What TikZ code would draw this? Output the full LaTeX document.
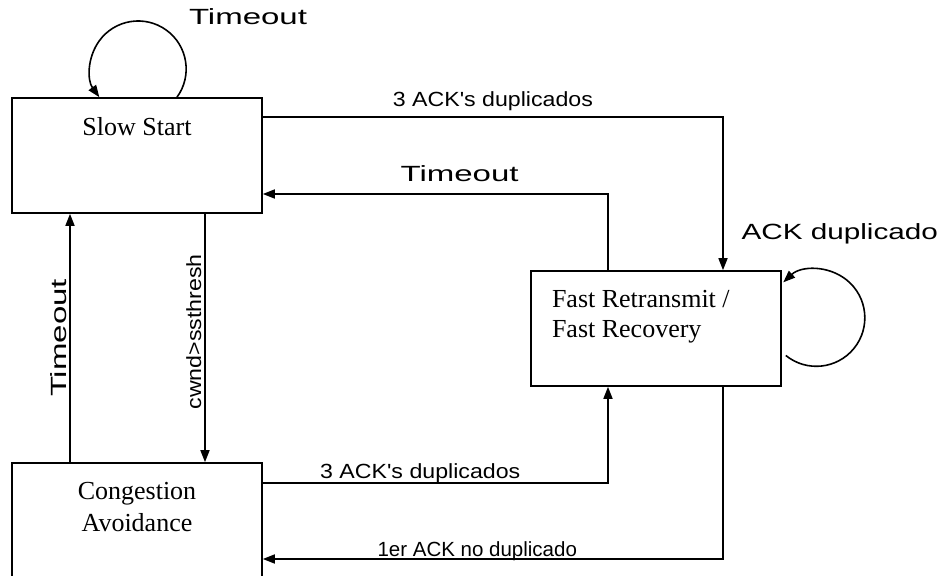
\documentclass[tikz,border=0pt]{standalone}
\usepackage{fontspec}
\usepackage{graphicx}
\setmainfont{Liberation Serif}
\newfontfamily\arialfont{Liberation Sans}
\usetikzlibrary{positioning,arrows.meta}
\newcommand{\lblwide}[2]{\scalebox{#1}[1]{#2}}

\begin{document}
\begin{tikzpicture}[
    x=1pt, y=1pt,
    line width=1.6pt,
    state/.style={draw, minimum width=250pt, minimum height=115pt, inner sep=0pt},
    state text/.style={inner sep=0pt, font=\fontsize{26}{30}\selectfont},
    trans/.style={draw, -{Triangle[length=12pt, width=9pt]}},
    edge label/.style={font=\arialfont\fontsize{20.5}{24}\selectfont, inner sep=0pt},
    big label/.style={font=\arialfont\fontsize{22}{26}\selectfont, inner sep=0pt}
]
\useasboundingbox (0,0) rectangle (941,575);

% states
\node[state] (ss) at (137,419.5) {};
\node[state] (fr) at (656,246.5) {};
\node[state] (ca) at (137,54.5) {};

\node[state text, below=19pt of ss.north] (sstext) {Slow Start};
\node[state text, align=left, below right=19pt and 21pt of fr.north west] (frtext) {Fast Retransmit /\\Fast Recovery};
\node[state text, align=center, font=\fontsize{26}{32}\selectfont, below=19pt of ca.north] (catext) {Congestion\\Avoidance};

% transitions
\draw[trans] ([xshift=40pt]ss.north) arc[start angle=-36, end angle=216, radius=48pt];
\node[big label, anchor=base] (ssloop) at ([xshift=111pt, yshift=73pt]ss.north) {\lblwide{1.5}{Timeout}};

\draw[trans] ([yshift=38.5pt]ss.east) -| ([xshift=67pt]fr.north)
    node[pos=0.25, edge label, anchor=base, yshift=10pt] {\lblwide{1.13}{3 ACK\textquotesingle s duplicados}};

\draw[trans] ([xshift=-48pt]fr.north) |- ([yshift=-38.5pt]ss.east)
    node[pos=0.715, big label, anchor=base, yshift=12pt] {\lblwide{1.5}{Timeout}};

\draw[trans] ([xshift=68pt]ss.south) -- ([xshift=68pt]ca.north)
    node[pos=0.475, edge label, rotate=90, anchor=south, inner sep=3pt] {\lblwide{1.13}{cwnd>ssthresh}};

\draw[trans] ([xshift=-67pt]ca.north) -- ([xshift=-67pt]ss.south)
    node[midway, big label, rotate=90, anchor=south, inner sep=2pt] {\lblwide{1.5}{Timeout}};

\draw[trans] ([yshift=37.5pt]ca.east) -| ([xshift=-48pt]fr.south)
    node[pos=0.228, edge label, anchor=base, yshift=4pt] {\lblwide{1.13}{3 ACK\textquotesingle s duplicados}};

\draw[trans] ([xshift=67pt]fr.south) |- ([yshift=-38.5pt]ca.east)
    node[pos=0.767, edge label, anchor=base, yshift=3pt] {1er ACK no duplicado};

\draw[trans] ([xshift=4pt, yshift=-27pt]fr.east) arc[start angle=-129, end angle=133, radius=48.5pt];
\node[big label, anchor=base] (frloop) at ([xshift=58pt, yshift=31pt]fr.north east) {\lblwide{1.35}{ACK duplicado}};
\end{tikzpicture}
\end{document}
